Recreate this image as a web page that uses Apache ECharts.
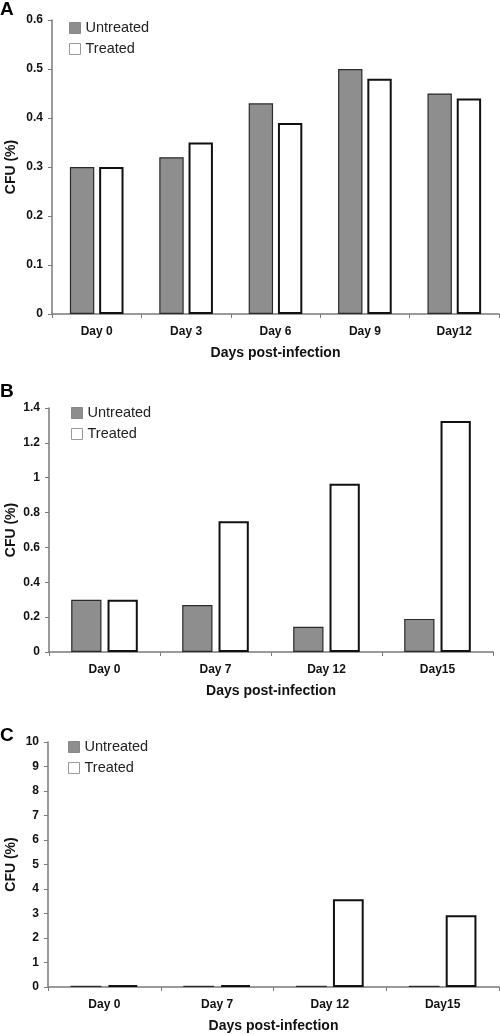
<!DOCTYPE html>
<html>
<head>
<meta charset="utf-8">
<script src="https://cdn.jsdelivr.net/npm/echarts@6/dist/echarts.min.js"></script>
<style>
html,body{margin:0;padding:0;background:#fff;}
#chart{width:500px;height:1034px;}
</style>
</head>
<body>
<div id="chart"></div>
<script>
// ---- Data ----
const seriesNames = ['Untreated', 'Treated'];
const panelLabels = ['A', 'B', 'C'];
const xAxisTitle = 'Days post-infection';
const yAxisTitle = 'CFU (%)';

const categoriesA = ['Day 0', 'Day 3', 'Day 6', 'Day 9', 'Day12'];
const untreatedA = [0.30, 0.32, 0.43, 0.50, 0.45];
const treatedA = [0.30, 0.35, 0.39, 0.48, 0.44];

const categoriesB = ['Day 0', 'Day 7', 'Day 12', 'Day15'];
const untreatedB = [0.30, 0.27, 0.145, 0.19];
const treatedB = [0.30, 0.75, 0.965, 1.325];

const categoriesC = ['Day 0', 'Day 7', 'Day 12', 'Day15'];
const untreatedC = [0.05, 0.05, 0.05, 0.05];
const treatedC = [0.08, 0.08, 3.58, 2.93];

const yRangeA = { min: 0, max: 0.6, interval: 0.1 };
const yRangeB = { min: 0, max: 1.4, interval: 0.2 };
const yRangeC = { min: 0, max: 10, interval: 1 };

// ---- Styles ----
const FONT = 'Arial, "Liberation Sans", sans-serif';
const axisColor = '#7a7a7a';
const textColor = '#111';

const grids = [
  { left: 52, right: 1, top: 20, height: 294, outerBoundsMode: 'none', containLabel: false },
  { left: 49, right: 7, top: 408, height: 244, outerBoundsMode: 'none', containLabel: false },
  { left: 48, right: 1, top: 742, height: 245, outerBoundsMode: 'none', containLabel: false }
];
const yNameGaps = [34, 31, 30];
const labelPos = [10, 392, 736];
const legendPos = [{ left: 69, top: 20.5 }, { left: 71, top: 405.5 }, { left: 68, top: 739.5 }];

const cats = [categoriesA, categoriesB, categoriesC];
const yr = [yRangeA, yRangeB, yRangeC];
const data = [[untreatedA, treatedA], [untreatedB, treatedB], [untreatedC, treatedC]];

const xAxes = cats.map((c, i) => ({
  type: 'category', gridIndex: i, data: c,
  name: xAxisTitle, nameLocation: 'middle', nameGap: 32, nameMoveOverlap: false,
  nameTextStyle: { fontFamily: FONT, fontWeight: 'bold', fontSize: 14, color: textColor },
  axisLine: { lineStyle: { color: axisColor, width: 1.5 } },
  axisTick: { show: true, length: 4, alignWithLabel: false, lineStyle: { color: axisColor, width: 1 } },
  axisLabel: { fontFamily: FONT, fontWeight: 'bold', fontSize: 12, color: textColor, margin: 12 },
  splitLine: { show: false }
}));

const yAxes = yr.map((r, i) => ({
  type: 'value', gridIndex: i, min: r.min, max: r.max, interval: r.interval,
  name: yAxisTitle, nameLocation: 'middle', nameGap: yNameGaps[i], nameRotate: 90, nameMoveOverlap: false,
  nameTextStyle: { fontFamily: FONT, fontWeight: 'bold', fontSize: 14, color: textColor },
  axisLine: { show: true, lineStyle: { color: axisColor, width: 1.5 } },
  axisTick: { show: true, length: 4, lineStyle: { color: axisColor, width: 1 } },
  axisLabel: { fontFamily: FONT, fontWeight: 'bold', fontSize: 12, color: textColor, margin: 9 },
  splitLine: { show: false }
}));

const styles = [
  { color: '#8e8e8e', borderColor: '#2a2a2a', borderWidth: 1.2 },
  { color: '#ffffff', borderColor: '#111111', borderWidth: 2 }
];

const series = [];
data.forEach((pair, i) => {
  pair.forEach((vals, j) => {
    series.push({
      type: 'bar', name: seriesNames[j], xAxisIndex: i, yAxisIndex: i,
      data: vals, barCategoryGap: '40%', barGap: '20%',
      itemStyle: styles[j], emphasis: { disabled: true }, animation: false
    });
  });
});

const legends = legendPos.map(p => ({
  left: p.left, top: p.top, orient: 'vertical', itemWidth: 11, itemHeight: 11, itemGap: 6,
  padding: 0, itemTextGap: 5,
  selectedMode: false, icon: 'rect',
  textStyle: { fontFamily: FONT, fontSize: 14.5, color: '#222' },
  data: [
    { name: seriesNames[0], itemStyle: { color: '#8e8e8e', borderColor: '#888', borderWidth: 1 } },
    { name: seriesNames[1], itemStyle: { color: '#ffffff', borderColor: '#999', borderWidth: 1 } }
  ]
}));

const graphics = panelLabels.map((t, i) => ({
  type: 'text', left: 0, top: labelPos[i] - 10,
  style: { text: t, font: 'bold 19px ' + FONT, fill: '#000' }
}));

const chart = echarts.init(document.getElementById('chart'), null, { renderer: 'canvas' });
chart.setOption({
  animation: false,
  backgroundColor: '#fff',
  grid: grids,
  xAxis: xAxes,
  yAxis: yAxes,
  legend: legends,
  series: series,
  graphic: graphics
});
</script>
</body>
</html>
